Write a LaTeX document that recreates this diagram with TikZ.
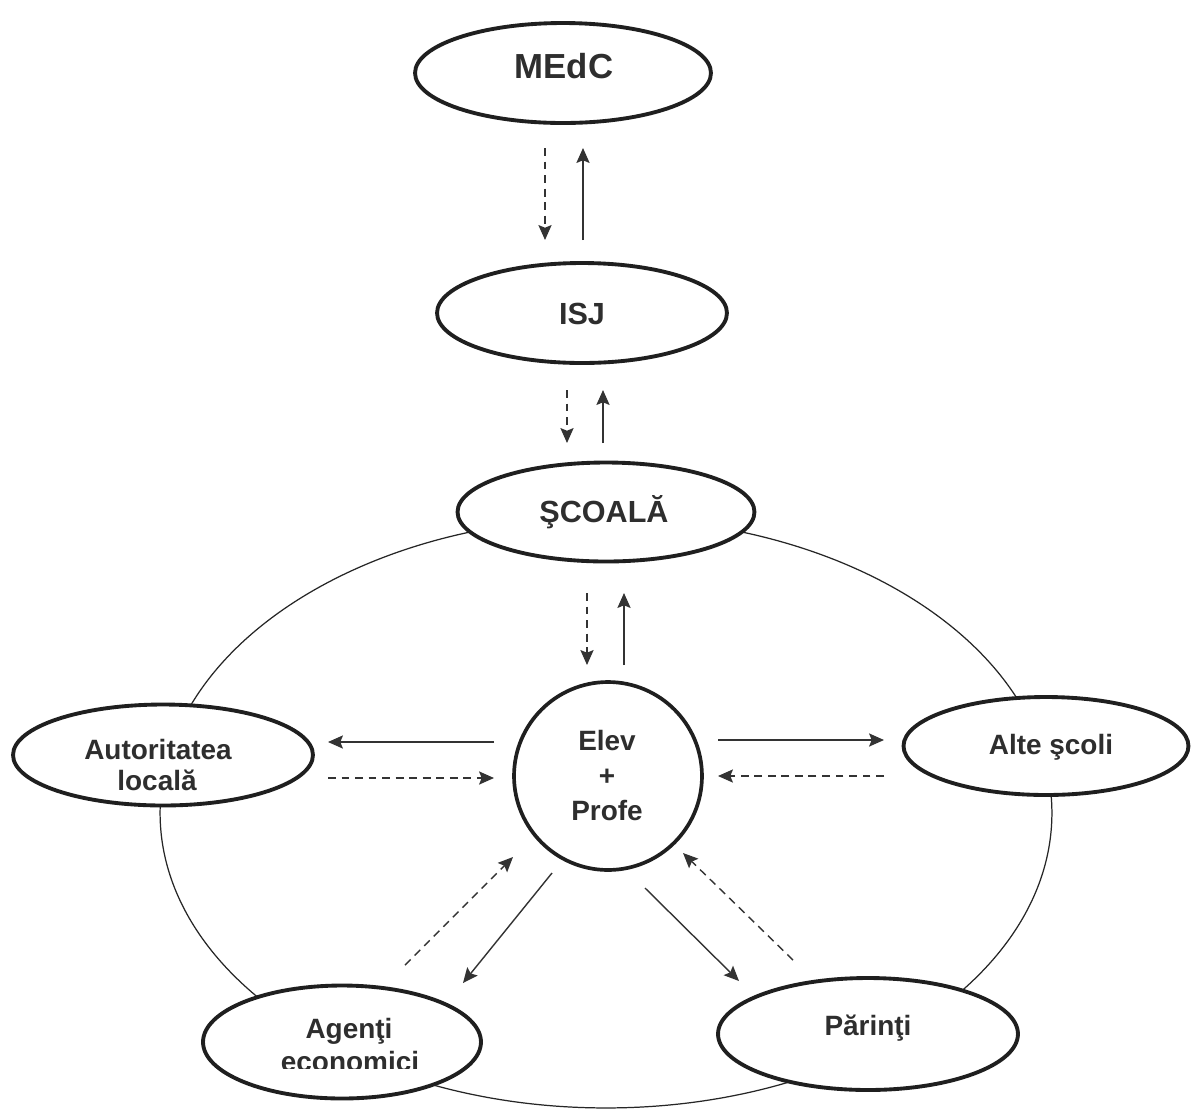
\documentclass[tikz,border=0pt]{standalone}
\usepackage{fontspec}
\setmainfont{Liberation Sans}
\usetikzlibrary{shapes.geometric,arrows.meta}
\begin{document}
\begin{tikzpicture}[x=0.02cm,y=-0.02cm,
  oval/.style={ellipse,draw=black!88,line width=2.2pt,fill=white,inner sep=0pt},
  lbl/.style={anchor=base,text=black!82,font=\bfseries\fontsize{15.9}{18}\selectfont},
  arr/.style={line width=0.8pt,draw=black!80,-{Stealth[length=8.5pt,width=7.5pt,inset=1.5pt]}},
  darr/.style={arr,dash pattern=on 4.5pt off 3.2pt}]
\useasboundingbox (0,0) rectangle (1191,1110);
\fill[white] (0,0) rectangle (1191,1110);
% big ellipse
\draw[line width=0.7pt,black!85] (606,813) ellipse [x radius=8.92cm, y radius=5.9cm];
% nodes
\node[oval,minimum width=5.92cm,minimum height=2.0cm] (medc) at (563,73) {};
\node[oval,minimum width=5.8cm,minimum height=2.0cm] (isj) at (582,313) {};
\node[oval,minimum width=5.94cm,minimum height=1.98cm] (scoala) at (606,512) {};
\node[circle,draw=black!88,line width=2.1pt,fill=white,minimum size=3.76cm,inner sep=0pt] (elev) at (608,776) {};
\node[oval,minimum width=6.0cm,minimum height=2.02cm] (aut) at (163,755) {};
\node[oval,minimum width=5.7cm,minimum height=1.96cm] (alte) at (1046,746) {};
\node[oval,minimum width=5.56cm,minimum height=2.26cm] (agenti) at (342,1042) {};
\node[oval,minimum width=6.0cm,minimum height=2.24cm] (parinti) at (868,1034) {};
% labels
\node[lbl,font=\bfseries\fontsize{19.8}{22}\selectfont] (tmedc) at (564,78) {MEdC};
\node[lbl,font=\bfseries\fontsize{17.4}{20}\selectfont] (tisj) at (582,324) {ISJ};
\node[lbl,font=\bfseries\fontsize{17.4}{20}\selectfont] (tscoala) at (604,522) {ŞCOALĂ};
\node[lbl] (te1) at (607,750) {Elev};
\node[lbl] (te2) at (607,785) {+};
\node[lbl] (te3) at (607,820) {Profe};
\node[lbl] (ta1) at (158,759) {Autoritatea};
\node[lbl] (ta2) at (157,790) {locală};
\node[lbl] (talte) at (1051,754) {Alte şcoli};
\node[lbl] (tag1) at (349,1038) {Agenţi};
\begin{scope}
\clip (0,0) rectangle (1191,1068);
\node[lbl] (tag2) at (350,1071) {economici};
\end{scope}
\node[lbl] (tpar) at (868,1035) {Părinţi};
% arrow end points
\coordinate (a1s) at (545,148); \coordinate (a1e) at (545,240);
\coordinate (b1s) at (583,240); \coordinate (b1e) at (583,148);
\coordinate (a2s) at (567,390); \coordinate (a2e) at (567,443);
\coordinate (b2s) at (603,443); \coordinate (b2e) at (603,390);
\coordinate (a3s) at (587,593); \coordinate (a3e) at (587,665);
\coordinate (b3s) at (624,665); \coordinate (b3e) at (624,593);
\coordinate (l1s) at (494,742); \coordinate (l1e) at (328,742);
\coordinate (l2s) at (328,778); \coordinate (l2e) at (494,778);
\coordinate (r1s) at (718,740); \coordinate (r1e) at (884,740);
\coordinate (r2s) at (884,776); \coordinate (r2e) at (718,776);
\coordinate (g1s) at (552,873); \coordinate (g1e) at (463,983);
\coordinate (g2s) at (405,965); \coordinate (g2e) at (513,857);
\coordinate (p1s) at (645,888); \coordinate (p1e) at (739,981);
\coordinate (p2s) at (793,960); \coordinate (p2e) at (683,853);
% arrows
\draw[darr] (a1s) -- (a1e);
\draw[arr] (b1s) -- (b1e);
\draw[darr] (a2s) -- (a2e);
\draw[arr] (b2s) -- (b2e);
\draw[darr] (a3s) -- (a3e);
\draw[arr] (b3s) -- (b3e);
\draw[arr] (l1s) -- (l1e);
\draw[darr] (l2s) -- (l2e);
\draw[arr] (r1s) -- (r1e);
\draw[darr] (r2s) -- (r2e);
\draw[arr] (g1s) -- (g1e);
\draw[darr] (g2s) -- (g2e);
\draw[arr] (p1s) -- (p1e);
\draw[darr] (p2s) -- (p2e);
\end{tikzpicture}
\end{document}
